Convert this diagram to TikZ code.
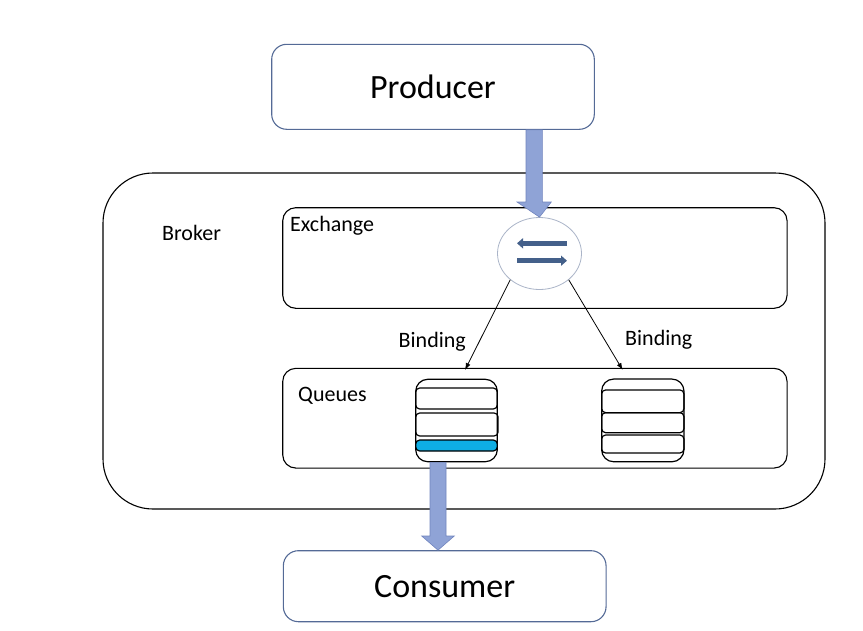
\documentclass[tikz,border=0pt]{standalone}
\usepackage{fontspec}
\setmainfont{Carlito}
\usetikzlibrary{shapes.geometric,arrows.meta}
\definecolor{boxblue}{RGB}{84,106,150}
\definecolor{arrowfill}{RGB}{143,163,214}
\definecolor{arrowdraw}{RGB}{112,132,190}
\definecolor{ellline}{RGB}{170,180,200}
\definecolor{xarrow}{RGB}{68,96,138}
\definecolor{qblue}{RGB}{14,174,228}
\begin{document}
\begin{tikzpicture}[x=1pt,y=-1pt,
  endbox/.style={draw=boxblue, line width=1.1pt, rounded corners=15pt, inner sep=0, font=\fontsize{34}{40}\selectfont},
  area/.style={draw=black, line width=1.1pt, inner sep=0},
  lbl/.style={inner sep=0, anchor=base west, font=\fontsize{22}{26}\selectfont},
  qouter/.style={draw=black, line width=1.2pt, rounded corners=12pt, inner sep=0},
  qbar/.style={draw=black, line width=1.2pt, rounded corners=4pt, inner sep=0},
  blockarrow/.style={fill=arrowfill, draw=arrowdraw, line width=0.6pt},
  bind/.style={draw=black, line width=0.8pt, -{Latex[length=7pt,width=5pt]}},
  xarr/.style={draw=xarrow, line width=4.5pt, -{Triangle[length=6pt,width=10pt]}}]
\useasboundingbox (0,0) rectangle (863,630);
% outer boxes
\node[endbox, minimum width=322.6pt, minimum height=85pt] (producer) at (433,86.8) {Producer};
\node[endbox, minimum width=322.7pt, minimum height=71pt] (consumer) at (444.7,586.2) {Consumer};
\node[area, rounded corners=50pt, minimum width=722pt, minimum height=336pt] (broker) at (464,341) {};
\node[area, rounded corners=13pt, minimum width=504.3pt, minimum height=100.6pt] (exchange) at (534.9,258) {};
\node[area, rounded corners=13pt, minimum width=504.3pt, minimum height=99.7pt] (queues) at (534.9,418.2) {};
% labels
\node[lbl] (brokerlbl) at (162,240) {Broker};
\node[lbl] (exchangelbl) at (290,231) {Exchange};
\node[lbl] (queueslbl) at (298,401) {Queues};
\node[lbl] (bind1) at (398.5,347) {Binding};
\node[lbl] (bind2) at (625,345) {Binding};
% exchange hub
\node[ellipse, draw=ellline, line width=0.8pt, fill=white, minimum width=84pt, minimum height=72pt, inner sep=0] (hub) at (539.5,253.5) {};
\draw[xarr] ([xshift=27.5pt,yshift=10.2pt]hub.center) -- ([xshift=-22.5pt,yshift=10.2pt]hub.center);
\draw[xarr] ([xshift=-22.5pt,yshift=-7.2pt]hub.center) -- ([xshift=27.5pt,yshift=-7.2pt]hub.center);
% queue 1
\node[qouter, minimum width=81.6pt, minimum height=82.4pt] (q1) at (456.5,420.5) {};
\node[qbar, minimum width=81.6pt, minimum height=21pt] (q1a) at (456.5,398.5) {};
\node[qbar, minimum width=82.4pt, minimum height=23pt] (q1b) at (456.9,424.5) {};
\node[qbar, fill=qblue, minimum width=81.6pt, minimum height=11pt] (q1c) at (456.5,445.5) {};
% queue 2
\node[qouter, minimum width=82.3pt, minimum height=82.7pt] (q2) at (642.8,420.4) {};
\node[qbar, minimum width=82.3pt, minimum height=22.7pt] (q2a) at (642.8,401.3) {};
\node[qbar, minimum width=82.3pt, minimum height=20pt] (q2b) at (642.8,422.7) {};
\node[qbar, minimum width=82.3pt, minimum height=18pt] (q2c) at (642.8,444) {};
% bindings
\coordinate (q1in) at (465,370);
\coordinate (q2in) at (622.7,370);
\draw[bind] (hub.222) -- (q1in);
\draw[bind] (hub.318) -- (q2in);
% block arrows
\draw[blockarrow] (producer.south -| 526,0) -- (526,202) -- (517,202) -- (hub.north) -- (551.3,202) -- (542.3,202) -- (producer.south -| 542.3,0) -- cycle;
\draw[blockarrow] (q1.south -| 430,0) -- (430,536) -- (421.7,536) -- (consumer.north -| 438,0) -- (454.3,536) -- (446,536) -- (q1.south -| 446,0) -- cycle;
\end{tikzpicture}
\end{document}
